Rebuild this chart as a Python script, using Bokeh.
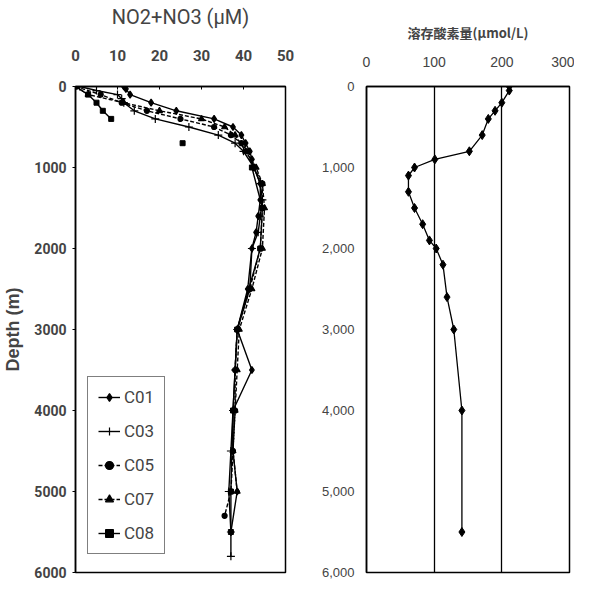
from bokeh.plotting import figure
from bokeh.layouts import row
from bokeh.models import Range1d, Legend, LegendItem, FixedTicker, NumeralTickFormatter
from bokeh.embed import file_html
from bokeh.resources import INLINE

# ---------------- data ----------------
c01_depth = [0, 30, 100, 200, 300, 400, 500, 600, 700, 800, 900, 1000, 1200, 1400, 1600, 1800, 2000, 2500, 3000, 3500, 4000, 4500, 5000, 5500]
c01_val = [11.5, 12, 13, 18, 24, 33, 37.5, 39.5, 40.5, 41.5, 42, 42.5, 44, 44, 43.5, 43, 42, 41, 38.5, 42, 37.5, 37.5, 38.5, 37]

c03_depth = [0, 50, 100, 150, 200, 300, 400, 500, 600, 700, 800, 1000, 1200, 1400, 1600, 1800, 2000, 2500, 3000, 3500, 4000, 4500, 5000, 5500, 5800]
c03_val = [1, 5, 10, 11, 11.5, 14, 19, 27, 34, 38, 40, 42.5, 44, 44.5, 44, 43.5, 42, 41.5, 38.5, 38, 37.5, 37, 36.5, 37, 37]

c05_depth = [0, 100, 200, 300, 400, 500, 600, 700, 800, 1000, 1200, 1500, 2000, 2500, 3000, 3500, 4000, 4500, 5000, 5300]
c05_val = [0, 6, 11, 17, 25, 33, 37, 39.5, 41, 42.5, 44.5, 44.5, 44, 41.5, 38.5, 38, 38, 37.5, 37, 35.5]

c07_depth = [0, 100, 200, 300, 400, 500, 600, 800, 1000, 1200, 1500, 2000, 2500, 3000, 3500, 4000, 4500, 5000]
c07_val = [0, 3, 11.5, 20, 30, 35.5, 38, 40.5, 43, 44.5, 45, 44.5, 42, 39, 38.5, 38, 37.5, 38.5]

c08_depth = [0, 100, 200, 300, 400, 700, 1000, 1500, 2000, 3000, 4000, 5000, 5500]
c08_val = [0, 3, 5, 6.5, 8.5, 25.5, 42, 44.5, 44, 38.5, 37.5, 37, 37]

no3_ticks = [0, 10, 20, 30, 40, 50]
depth_ticks = [0, 1000, 2000, 3000, 4000, 5000, 6000]

do_depth = [0, 50, 200, 300, 400, 600, 800, 900, 1000, 1100, 1300, 1500, 1700, 1900, 2000, 2200, 2600, 3000, 4000, 5500]
do_val = [211, 211, 200, 190, 180, 171, 152, 101, 71, 62, 62, 71, 83, 93, 103, 113, 119, 129, 141, 141]
do_ticks = [0, 100, 200, 300]

NARROW = "Roboto"
SANS = "Liberation Sans"

# ---------------- left figure ----------------
p1 = figure(width=303, height=582, output_backend="svg", toolbar_location=None,
            x_axis_location="above", x_range=Range1d(0, 50), y_range=Range1d(6000, 0),
            min_border_left=65, min_border_right=18, min_border_top=86, min_border_bottom=10)
p1.xgrid.visible = False
p1.ygrid.visible = False
p1.outline_line_color = "black"
p1.outline_line_width = 1.5
p1.background_fill_color = "white"

xa = p1.xaxis[0]
xa.ticker = FixedTicker(ticks=no3_ticks)
xa.axis_label = "NO2+NO3 (µM)"
xa.axis_label_text_font = NARROW
xa.axis_label_text_font_size = "20px"
xa.axis_label_text_font_style = "normal"
xa.axis_label_standoff = 18
xa.major_label_text_font = NARROW
xa.major_label_text_font_size = "15px"
xa.major_label_text_font_style = "bold"
xa.major_label_standoff = 26
xa.major_tick_in = 3
xa.major_tick_out = 0
xa.minor_tick_line_color = None
xa.axis_line_color = "black"
xa.axis_line_width = 1.5

ya = p1.yaxis[0]
ya.ticker = FixedTicker(ticks=depth_ticks)
ya.axis_label = "Depth (m)"
ya.axis_label_text_font = SANS
ya.axis_label_text_font_size = "18px"
ya.axis_label_text_font_style = "bold"
ya.axis_label_standoff = 8
ya.major_label_text_font = NARROW
ya.major_label_text_font_size = "14px"
ya.major_label_text_font_style = "bold"
ya.major_label_standoff = 6
ya.major_tick_in = 0
ya.major_tick_out = 3
ya.minor_tick_line_color = None
ya.axis_line_color = "black"
ya.axis_line_width = 1.5

items = []
series = [
    ("C01", c01_depth, c01_val, "solid", "diamond", 7),
    ("C03", c03_depth, c03_val, "solid", "cross", 8),
    ("C05", c05_depth, c05_val, "4 2", "circle", 5),
    ("C07", c07_depth, c07_val, "4 2", "triangle", 6),
]
for name, d, v, dash, mk, sz in series:
    r1 = p1.line(v, d, line_color="black", line_width=1.4, line_dash=dash)
    r2 = p1.scatter(v, d, marker=mk, size=sz, fill_color="black", line_color="black", line_width=1.2)
    items.append(LegendItem(label=name, renderers=[r1, r2]))

# C08: the 700 m point stands alone
r8a = p1.line(c08_val[:5], c08_depth[:5], line_color="black", line_width=1.4)
p1.line(c08_val[6:], c08_depth[6:], line_color="black", line_width=1.4)
r8b = p1.scatter(c08_val, c08_depth, marker="square", size=5, fill_color="black", line_color="black")
items.append(LegendItem(label="C08", renderers=[r8a, r8b]))

legend = Legend(items=items, location=(12, 18))
legend.border_line_color = "black"
legend.border_line_width = 1.5
legend.label_text_font = NARROW
legend.label_text_font_size = "17px"
legend.glyph_width = 22
legend.glyph_height = 20
legend.label_height = 20
legend.label_standoff = 4
legend.spacing = 14
legend.padding = 10
legend.margin = 0
legend.background_fill_alpha = 1.0
p1.add_layout(legend, "center")

# ---------------- right figure ----------------
p2 = figure(width=271, height=582, output_backend="svg", toolbar_location=None,
            x_axis_location="above", x_range=Range1d(0, 300), y_range=Range1d(6000, 0),
            min_border_left=63, min_border_right=5, min_border_top=80, min_border_bottom=10)
p2.ygrid.visible = False
p2.xgrid.ticker = FixedTicker(ticks=do_ticks)
p2.xgrid.grid_line_color = "black"
p2.xgrid.grid_line_width = 1.3
p2.xgrid.grid_line_alpha = 1.0
p2.outline_line_color = "black"
p2.outline_line_width = 1.5

xb = p2.xaxis[0]
xb.ticker = FixedTicker(ticks=do_ticks)
xb.axis_label = "溶存酸素量(μmol/L)"
xb.axis_label_text_font = "Noto Sans CJK JP"
xb.axis_label_text_font_size = "13px"
xb.axis_label_text_font_style = "bold"
xb.axis_label_standoff = 12
xb.major_label_text_font = SANS
xb.major_label_text_font_size = "14px"
xb.major_label_standoff = 20
xb.major_tick_in = 0
xb.major_tick_out = 0
xb.minor_tick_line_color = None
xb.axis_line_color = "black"
xb.axis_line_width = 1.5

yb = p2.yaxis[0]
yb.ticker = FixedTicker(ticks=depth_ticks)
yb.formatter = NumeralTickFormatter(format="0,0")
yb.major_label_text_font = SANS
yb.major_label_text_font_size = "13px"
yb.major_label_standoff = 12
yb.major_tick_in = 0
yb.major_tick_out = 0
yb.minor_tick_line_color = None
yb.axis_line_color = "black"
yb.axis_line_width = 1.5

p2.line(do_val, do_depth, line_color="black", line_width=1.3)
p2.scatter(do_val, do_depth, marker="diamond", size=9, fill_color="black", line_color="black")

layout = row(p1, p2)
open("out.html", "w").write(file_html(layout, INLINE))
